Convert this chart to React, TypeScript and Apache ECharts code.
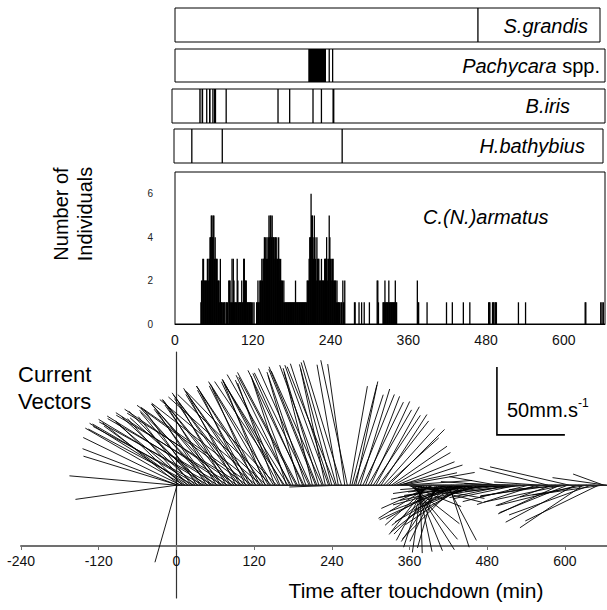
import React, { useEffect, useRef } from 'react';
import * as echarts from 'echarts';

const FONT = "'Liberation Sans', Arial, Helvetica, sans-serif";

// ---- occurrence strips: [start, end] in minutes after touchdown ----
const sGrandisEvents = [[467.5, 467.5]];
const pachycaraEvents = [[205.7, 233], [237, 239], [242.5, 244]];
const bIrisEvents = [
  [37.5, 39.7], [41, 43.5], [48, 50], [52.5, 55], [58, 59], [60, 63.5], [79, 79],
  [159, 159], [177, 177], [213, 213], [226, 226], [243, 246],
];
const hBathybiusEvents = [[26, 26], [73, 73], [258, 258]];

// ---- C.(N.)armatus counts per minute ----
const armatusTime = [
  40, 41, 42, 43, 44, 45, 46, 47, 48, 49,
  50, 51, 52, 53, 54, 55, 56, 57, 58, 59,
  60, 61, 62, 63, 64, 65, 66, 67, 68, 69,
  70, 71, 72, 73, 75, 76, 77, 79, 80, 81,
  83, 84, 85, 86, 87, 88, 89, 90, 91, 92,
  93, 94, 95, 96, 97, 98, 99, 100, 101, 102,
  103, 104, 105, 106, 107, 108, 109, 110, 111, 112,
  113, 114, 115, 116, 117, 118, 120, 122, 126, 127,
  128, 129, 130, 131, 132, 133, 134, 135, 136, 137,
  138, 139, 140, 141, 142, 143, 144, 145, 146, 147,
  148, 149, 150, 151, 152, 153, 154, 155, 156, 157,
  158, 159, 160, 161, 162, 163, 164, 165, 166, 167,
  168, 169, 170, 171, 172, 173, 174, 175, 176, 177,
  178, 179, 180, 181, 182, 183, 184, 185, 186, 187,
  188, 189, 190, 191, 192, 193, 194, 195, 196, 197,
  198, 199, 200, 201, 202, 203, 204, 205, 206, 207,
  208, 209, 210, 211, 212, 213, 214, 215, 216, 217,
  218, 219, 220, 221, 222, 223, 224, 225, 226, 227,
  228, 229, 230, 231, 232, 233, 234, 235, 236, 237,
  238, 239, 240, 241, 242, 243, 244, 245, 246, 247,
  248, 249, 250, 251, 252, 253, 254, 256, 257, 259,
  260, 261, 262, 277, 278, 284, 288, 292, 300, 312,
  313, 314, 321, 322, 323, 324, 325, 326, 327, 328,
  329, 330, 331, 332, 333, 334, 335, 336, 337, 338,
  339, 340, 341, 342, 374, 375, 376, 389, 419, 428,
  445, 455, 484, 485, 486, 490, 491, 492, 494, 495,
  496, 530, 541, 633, 634, 657, 659, 661,
];
const armatusCount = [
  1, 2, 2, 3, 3, 2, 2, 2, 2, 2,
  3, 3, 2, 3, 4, 4, 5, 5, 4, 5,
  5, 3, 4, 3, 3, 3, 2, 2, 2, 1,
  3, 1, 1, 1, 1, 1, 1, 1, 1, 1,
  2, 2, 2, 1, 1, 3, 1, 3, 2, 1,
  1, 1, 1, 3, 2, 1, 1, 1, 1, 1,
  2, 1, 1, 3, 3, 2, 2, 2, 1, 1,
  1, 1, 1, 1, 1, 1, 1, 1, 1, 1,
  2, 1, 1, 2, 2, 2, 3, 2, 3, 3,
  4, 3, 4, 3, 4, 3, 4, 5, 4, 5,
  5, 4, 5, 4, 4, 3, 4, 4, 3, 4,
  3, 3, 4, 3, 2, 3, 2, 2, 2, 1,
  2, 1, 1, 1, 1, 1, 1, 1, 1, 1,
  1, 1, 1, 1, 1, 1, 1, 1, 2, 1,
  1, 1, 1, 1, 1, 1, 1, 1, 1, 1,
  1, 1, 1, 1, 1, 1, 2, 2, 2, 3,
  4, 4, 6, 5, 5, 4, 3, 5, 4, 3,
  2, 4, 3, 3, 3, 2, 2, 2, 3, 2,
  2, 2, 2, 3, 3, 3, 4, 2, 3, 3,
  5, 4, 3, 3, 2, 3, 3, 2, 2, 2,
  2, 1, 2, 1, 1, 1, 1, 1, 1, 2,
  1, 1, 2, 1, 1, 1, 1, 1, 1, 2,
  2, 1, 1, 1, 1, 2, 1, 1, 1, 1,
  1, 2, 1, 1, 1, 1, 1, 1, 1, 1,
  1, 2, 1, 1, 2, 1, 1, 1, 1, 1,
  1, 1, 1, 1, 1, 1, 1, 1, 1, 1,
  1, 1, 1, 1, 1, 1, 1, 1,
];

// ---- current vectors: time (min), direction towards (deg from N), speed (mm/s) ----
const vecTime = [
  0, 0, 1, 2, 3, 5, 7, 9, 12, 14,
  17, 19, 22, 24, 27, 29, 32, 34, 37, 39,
  42, 44, 47, 49, 52, 54, 57, 59, 62, 64,
  67, 69, 72, 74, 77, 79, 82, 84, 87, 89,
  92, 94, 97, 99, 102, 104, 107, 109, 112, 114,
  117, 119, 122, 124, 127, 129, 132, 134, 137, 139,
  142, 144, 147, 150, 152, 155, 158, 160, 165, 167,
  170, 172, 175, 177, 180, 185, 187, 190, 195, 197,
  200, 205, 207, 210, 215, 217, 220, 225, 227, 230,
  235, 237, 240, 245, 247, 250, 254, 255, 260, 264,
  268, 271, 274, 277, 280, 284, 288, 292, 296, 300,
  304, 308, 312, 316, 320, 324, 328, 332, 336, 340,
  343, 346, 349, 352, 355, 358, 360, 361, 364, 366,
  367, 370, 373, 376, 379, 382, 385, 388, 391, 394,
  397, 400, 403, 406, 409, 412, 415, 418, 421, 424,
  426, 428, 432, 434, 436, 440, 442, 444, 448, 450,
  452, 456, 458, 460, 464, 468, 472, 476, 480, 484,
  488, 492, 496, 500, 504, 508, 512, 516, 520, 526,
  532, 538, 544, 550, 556, 562, 568, 574, 580, 586,
  592, 598, 604, 607, 610, 616, 622, 628, 634, 640,
  646, 652, 658, 660, 664,
];
const vecDir = [
  275, 262, 196, 291, 287, 309, 296, 314, 300, 306,
  318, 302, 310, 322, 298, 313, 325, 300, 316, 320,
  298, 312, 326, 301, 318, 323, 299, 315, 328, 302,
  320, 325, 300, 318, 330, 303, 322, 327, 301, 320,
  332, 304, 324, 329, 302, 322, 334, 306, 326, 331,
  305, 324, 336, 308, 328, 333, 310, 326, 338, 312,
  330, 335, 314, 328, 340, 316, 332, 337, 330, 326,
  342, 328, 334, 330, 339, 332, 332, 344, 336, 334,
  341, 334, 336, 346, 338, 338, 343, 336, 340, 348,
  340, 342, 345, 338, 344, 350, 268, 343, 352, 348,
  10, 14, 18, 12, 22, 17, 26, 21, 30, 25,
  34, 29, 38, 33, 42, 48, 45, 55, 60, 68,
  78, 72, 80, 86, 96, 112, 100, 128, 140, 104,
  148, 158, 168, 178, 188, 198, 208, 218, 228, 238,
  246, 196, 206, 214, 224, 232, 240, 152, 162, 232,
  262, 245, 225, 258, 240, 250, 266, 236, 255, 260,
  242, 258, 264, 248, 262, 252, 266, 256, 270, 260,
  274, 264, 280, 268, 262, 266, 258, 272, 262, 258,
  270, 264, 256, 268, 252, 274, 260, 284, 250, 262,
  245, 258, 248, 283, 266, 242, 256, 236, 260, 250,
  270, 244, 262, 290, 278,
];
const vecSpeed = [
  79, 75, 59, 75, 73, 73, 80, 68, 84, 74,
  66, 86, 72, 64, 88, 74, 68, 90, 76, 70,
  92, 74, 66, 94, 76, 70, 96, 78, 68, 96,
  78, 72, 98, 80, 70, 98, 80, 76, 100, 82,
  74, 100, 84, 78, 100, 84, 76, 100, 86, 80,
  100, 86, 78, 98, 86, 82, 98, 88, 80, 97,
  88, 84, 96, 88, 80, 96, 88, 84, 90, 92,
  82, 90, 90, 94, 86, 90, 94, 84, 90, 94,
  88, 92, 94, 86, 92, 94, 90, 92, 94, 88,
  94, 94, 92, 94, 94, 90, 38, 96, 90, 94,
  74, 76, 70, 78, 72, 74, 68, 70, 64, 68,
  62, 66, 60, 62, 56, 52, 58, 50, 48, 46,
  44, 48, 54, 50, 40, 42, 56, 46, 52, 52,
  56, 52, 50, 50, 50, 48, 46, 46, 44, 46,
  42, 48, 46, 50, 50, 48, 50, 46, 48, 56,
  44, 60, 56, 50, 54, 56, 46, 52, 56, 52,
  50, 54, 48, 48, 54, 46, 50, 44, 48, 42,
  38, 46, 36, 44, 40, 38, 44, 34, 42, 48,
  36, 44, 50, 40, 46, 34, 48, 52, 44, 56,
  50, 60, 54, 60, 46, 58, 62, 56, 50, 64,
  42, 60, 52, 24, 40,
];

// scale bar (mm/s) anchored at a time / speed position in the vector panel
const scaleBarTime = 495;
const scaleBarBase = 37;
const scaleBarSpeed = 50;

function stripRender(params: any, api: any) {
  const s = api.coord([api.value(0), 1]);
  const e = api.coord([api.value(1), 0]);
  let x = s[0];
  let w = e[0] - s[0];
  if (w < 1.3) {
    x = (s[0] + e[0]) / 2 - 0.65;
    w = 1.3;
  }
  return { type: 'rect', shape: { x, y: s[1], width: w, height: e[1] - s[1] }, style: { fill: '#000' } };
}

export default function App() {
  const ref = useRef<HTMLDivElement>(null);
  useEffect(() => {
    if (!ref.current) return;
    const chart = echarts.init(ref.current, undefined, { renderer: 'svg' });

    const vecData = vecTime.map((t, i) => {
      const r = (vecDir[i] * Math.PI) / 180;
      return [t, vecSpeed[i] * Math.sin(r), vecSpeed[i] * Math.cos(r)];
    });
    const histData = armatusTime.map((t, i) => [t, armatusCount[i]]);

    const strips = [
      { ev: sGrandisEvents, left: 175, top: 8, width: 425, height: 34, min: 0, max: 655.9 },
      { ev: pachycaraEvents, left: 175, top: 49, width: 430, height: 33, min: 0, max: 663.6 },
      { ev: bIrisEvents, left: 172, top: 89, width: 433, height: 34, min: -4.6, max: 663.6 },
      { ev: hBathybiusEvents, left: 174, top: 129, width: 429, height: 34, min: -1.5, max: 660.5 },
    ];

    const grids: any[] = strips.map((s) => ({
      left: s.left, top: s.top, width: s.width, height: s.height,
      show: true, borderColor: '#000', borderWidth: 1, backgroundColor: 'transparent',
    }));
    grids.push({ left: 175, top: 172, width: 430, height: 152, show: true, borderColor: '#000', borderWidth: 1, backgroundColor: 'transparent' });
    grids.push({ left: 21, top: 352, width: 586, height: 246 });
    grids.push({ left: 21, top: 540, width: 586, height: 6 });

    const xAxes: any[] = strips.map((s, i) => ({ type: 'value', gridIndex: i, min: s.min, max: s.max, show: false }));
    xAxes.push({
      type: 'value', gridIndex: 4, min: 0, max: 663.6, interval: 120,
      axisLine: { show: true, lineStyle: { color: '#000', width: 1 } },
      axisTick: { show: false }, splitLine: { show: false },
      axisLabel: { fontSize: 14, color: '#111', margin: 9, fontFamily: FONT, showMaxLabel: false },
    });
    xAxes.push({ type: 'value', gridIndex: 5, min: -240, max: 665, show: false });
    xAxes.push({
      type: 'value', gridIndex: 6, min: -240, max: 665, interval: 120, position: 'bottom',
      axisLine: { show: true, onZero: false, lineStyle: { color: '#707070', width: 2 } },
      axisTick: { show: true, length: 4, lineStyle: { color: '#707070', width: 1 } },
      splitLine: { show: false },
      axisLabel: { fontSize: 14, color: '#111', margin: 8, fontFamily: FONT, showMaxLabel: false },
    });

    const yAxes: any[] = strips.map((s, i) => ({ type: 'value', gridIndex: i, min: 0, max: 1, show: false }));
    yAxes.push({
      type: 'value', gridIndex: 4, min: 0, max: 7, interval: 2,
      axisLine: { show: false }, axisTick: { show: false }, splitLine: { show: false },
      axisLabel: { fontSize: 10, color: '#222', margin: 22, fontFamily: FONT, showMaxLabel: false },
    });
    yAxes.push({
      type: 'value', gridIndex: 5, min: -83, max: 98,
      axisLine: { show: true, onZero: true, lineStyle: { color: '#333', width: 1.2 } },
      axisTick: { show: false }, axisLabel: { show: false }, splitLine: { show: false },
    });
    yAxes.push({ type: 'value', gridIndex: 6, min: 0, max: 1, show: false });

    const series: any[] = strips.map((s, i) => ({
      type: 'custom', xAxisIndex: i, yAxisIndex: i, data: s.ev, renderItem: stripRender, silent: true,
    }));
    series.push({
      type: 'bar', xAxisIndex: 4, yAxisIndex: 4, data: histData, barWidth: 1.3,
      itemStyle: { color: '#000' }, silent: true,
    });
    series.push({
      type: 'line', xAxisIndex: 5, yAxisIndex: 5, data: [[0, 0], [665, 0]], symbol: 'none',
      lineStyle: { color: '#222', width: 1.4 }, silent: true,
    });
    series.push({
      type: 'custom', xAxisIndex: 5, yAxisIndex: 5, data: vecData, encode: { x: 0, y: 2 }, silent: true,
      renderItem: (params: any, api: any) => {
        const t = api.value(0);
        const u = api.value(1);
        const v = api.value(2);
        const a = api.coord([t, 0]);
        const b = api.coord([t, v]);
        const unitPx = api.size([0, 1])[1];
        return {
          type: 'line',
          shape: { x1: a[0], y1: a[1], x2: a[0] + u * unitPx, y2: b[1] },
          style: { stroke: '#000', lineWidth: 0.9 },
        };
      },
    });
    series.push({
      type: 'custom', xAxisIndex: 5, yAxisIndex: 5, data: [[scaleBarTime, scaleBarBase, scaleBarSpeed]], silent: true,
      renderItem: (params: any, api: any) => {
        const p = api.coord([api.value(0), api.value(1)]);
        const top = api.coord([api.value(0), api.value(1) + api.value(2)]);
        const len = p[1] - top[1];
        return {
          type: 'polyline',
          shape: { points: [[p[0], top[1]], [p[0], p[1]], [p[0] + len, p[1]]] },
          style: { stroke: '#000', lineWidth: 1.6, fill: 'none' },
        };
      },
    });

    const txt = (x: number, y: number, text: string, extra: any = {}, rotation = 0) => ({
      type: 'text', x, y, rotation, silent: true,
      style: {
        text, fill: '#000', fontFamily: FONT, fontSize: 20,
        align: extra.align || 'left', textAlign: extra.align || 'left',
        verticalAlign: 'middle', textVerticalAlign: 'middle',
        ...extra,
      },
    });

    const option: any = {
      animation: false,
      grid: grids,
      xAxis: xAxes,
      yAxis: yAxes,
      series,
      graphic: [
        txt(588, 26, 'S.grandis', { align: 'right', fontStyle: 'italic' }),
        {
          type: 'text', x: 600, y: 66, silent: true,
          style: {
            text: '{i|Pachycara} {n|spp.}', align: 'right', textAlign: 'right',
            verticalAlign: 'middle', textVerticalAlign: 'middle', fill: '#000',
            fontFamily: FONT, fontSize: 20,
            rich: {
              i: { fontStyle: 'italic', fontFamily: FONT, fontSize: 20, fill: '#000' },
              n: { fontStyle: 'normal', fontFamily: FONT, fontSize: 20, fill: '#000' },
            },
          },
        },
        txt(570, 106, 'B.iris', { align: 'right', fontStyle: 'italic' }),
        txt(585, 146, 'H.bathybius', { align: 'right', fontStyle: 'italic' }),
        txt(423, 217, 'C.(N.)armatus', { fontStyle: 'italic' }),
        txt(61, 214, 'Number of', { align: 'center' }, Math.PI / 2),
        txt(85, 214, 'Individuals', { align: 'center' }, Math.PI / 2),
        txt(18, 374, 'Current', { fontSize: 22 }),
        txt(18, 401, 'Vectors', { fontSize: 22 }),
        txt(507, 410, '50mm.s', { fontSize: 20 }),
        txt(578, 403, '-1', { fontSize: 12 }),
        txt(416, 590, 'Time after touchdown (min)', { align: 'center', fontSize: 21 }),
      ],
    };
    chart.setOption(option);
    return () => chart.dispose();
  }, []);

  return (
    <div
      ref={ref}
      style={{ position: 'fixed', left: 0, top: 0, width: 607, height: 610, background: '#fff' }}
    />
  );
}
